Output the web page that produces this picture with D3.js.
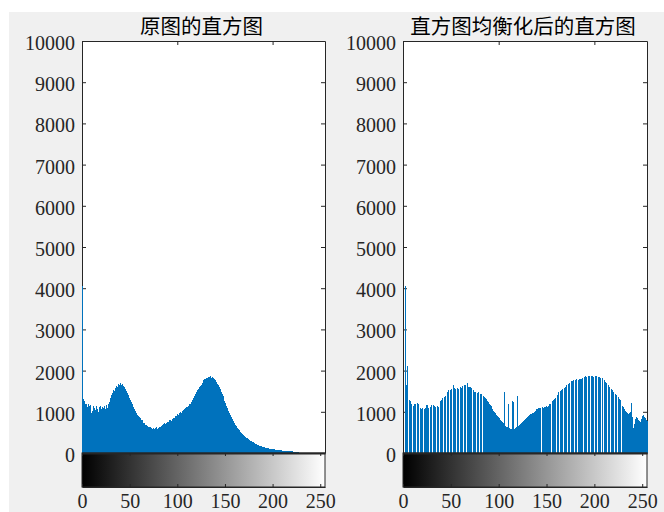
<!DOCTYPE html>
<html>
<head>
<meta charset="utf-8">
<script src="https://cdn.jsdelivr.net/npm/d3@7"></script>
<style>
  body { margin: 0; background: #fff; }
  svg { display: block; }
</style>
</head>
<body>
<svg id="svg" width="664" height="512"></svg>
<script>
// grey levels 0..255 (one bin per level)
const levels = d3.range(256);

// imhist of the original image
const origCounts = [
  4050,2120,1300,1260,1180,1200,1120,1190,1150,1170,
  980,1020,1130,1100,1050,1140,1080,1000,1110,1150,
  1060,1120,1010,1090,1130,1060,1160,1100,1190,1250,
  1340,1400,1450,1520,1500,1580,1620,1600,1670,1640,
  1690,1650,1680,1660,1630,1600,1560,1500,1450,1400,
  1340,1290,1230,1180,1120,1060,1010,960,930,900,
  870,840,810,790,760,740,720,690,680,650,
  640,620,630,600,590,610,580,600,620,590,
  610,640,620,660,680,650,700,720,700,740,
  760,750,790,810,780,830,860,840,890,910,
  950,930,970,990,960,1010,1040,1020,1070,1090,
  1120,1110,1150,1180,1200,1250,1290,1340,1380,1430,
  1470,1520,1560,1600,1630,1660,1700,1730,1760,1790,
  1800,1830,1810,1850,1840,1860,1830,1850,1820,1790,
  1760,1720,1680,1640,1600,1550,1490,1430,1380,1320,
  1270,1210,1150,1090,1030,980,920,870,820,780,
  730,690,650,610,580,550,520,490,470,440,
  420,400,390,370,360,340,320,300,290,270,
  260,240,230,210,200,190,180,170,160,150,
  140,140,130,120,120,110,110,100,100,95,
  90,90,85,80,80,75,75,70,70,65,
  60,60,55,50,50,48,45,45,42,40,
  40,38,35,32,30,25,20,15,12,10,
  8,6,5,4,3,3,2,2,1,1,
  0,0,0,0,0,0,0,0,0,0,
  0,0,0,0,0,0
];

// imhist after histeq
const eqCounts = [
  0,0,0,4060,1650,2100,0,1290,1260,1200,
  0,1150,1200,1190,0,1210,1200,0,1090,1070,
  1090,0,1080,1100,0,1170,1160,1100,0,1110,
  1170,0,1160,1130,1120,0,1140,1120,0,1260,
  1280,1340,0,1360,1380,0,1400,1480,1520,0,
  1530,1560,0,1640,1570,1560,0,1580,1560,0,
  1600,1570,1620,0,1650,1640,0,1690,1610,1590,
  0,1600,1580,0,1520,1480,1470,0,1450,1470,
  0,1440,1420,0,1380,1350,1330,1300,1270,1230,
  1200,1170,1130,1100,1060,1020,990,960,930,900,
  870,840,810,780,760,730,1480,660,640,620,
  1190,600,580,590,1260,570,1230,590,610,630,
  1380,660,680,700,730,750,780,800,820,850,
  870,900,920,940,950,960,970,990,1010,1040,
  1060,1080,1090,1090,1100,0,1110,1100,1120,1110,
  1130,1120,1150,1180,1200,0,1270,1290,1310,1330,
  0,1400,1450,1470,0,1510,1530,1550,0,1580,
  1600,1640,0,1670,1700,0,1740,1750,1760,0,
  1780,1790,0,1780,1800,1790,0,1790,1810,0,
  1850,1860,1850,0,1870,1860,0,1870,1860,1850,
  0,1870,1860,0,1850,1840,1830,0,1810,1800,
  0,1780,1730,1700,0,1650,1610,0,1560,1520,
  1490,0,1440,1400,0,1350,1320,1280,0,1150,
  1110,1080,1040,1020,990,970,950,960,1000,1220,
  880,600,700,820,880,860,800,770,760,820,
  900,930,870,840,810,780
];

const yTicks = [0,1000,2000,3000,4000,5000,6000,7000,8000,9000,10000];
const topTicks = [100, 200];
const cbTicks = [0,50,100,150,200,250];
const titles = ['原图的直方图', '直方图均衡化后的直方图'];

const svg = d3.select('#svg');
const axisColor = '#262626';
const barColor = '#0072bd';
const serif = '"Liberation Serif", "Times New Roman", serif';
const plain = d3.format('d');

// figure background (grey panel with a thin white border top/left)
svg.append('rect')
  .attr('x', 9).attr('y', 12)
  .attr('width', 655).attr('height', 500)
  .attr('fill', '#f0f0f0');

const defs = svg.append('defs');
const grad = defs.append('linearGradient').attr('id', 'grayramp');
grad.append('stop').attr('offset', '0%').attr('stop-color', '#000');
grad.append('stop').attr('offset', '100%').attr('stop-color', '#fff');

const plotTop = 41, plotBottom = 453, cbBottom = 487;

const panels = [
  { counts: origCounts, title: titles[0], left: 82, right: 325 },
  { counts: eqCounts, title: titles[1], left: 403, right: 647 }
];

panels.forEach(p => {
  const x = d3.scaleLinear().domain([0, 255]).range([p.left, p.right]);
  const y = d3.scaleLinear().domain([0, 10000]).range([plotBottom, plotTop]);
  const g = svg.append('g');

  g.append('rect')
    .attr('x', p.left).attr('y', plotTop)
    .attr('width', p.right - p.left).attr('height', plotBottom - plotTop)
    .attr('fill', '#fff');

  // box + ticks
  const yl = g.append('g')
    .attr('transform', 'translate(' + p.left + ',0)')
    .call(d3.axisLeft(y).tickValues(yTicks).tickFormat(plain)
      .tickSizeInner(-4).tickSizeOuter(0).tickPadding(7));
  yl.selectAll('text').attr('dy', '0.42em');

  g.append('g')
    .attr('transform', 'translate(' + p.right + ',0)')
    .call(d3.axisRight(y).tickValues(yTicks).tickSizeInner(-4).tickSizeOuter(0).tickFormat(''));

  g.append('g')
    .attr('transform', 'translate(0,' + plotTop + ')')
    .call(d3.axisTop(x).tickValues(topTicks).tickSizeInner(-4).tickSizeOuter(0).tickFormat(''));

  // histogram stems, snapped to pixel columns so neighbouring bins fill solid
  g.append('g')
    .attr('shape-rendering', 'crispEdges')
    .selectAll('line')
    .data(levels.filter(b => p.counts[b] > 0))
    .enter()
    .append('line')
      .attr('x1', b => x(b)).attr('x2', b => x(b))
      .attr('y1', y(0)).attr('y2', b => y(p.counts[b]))
      .attr('stroke', barColor)
      .attr('stroke-width', 1);

  // grey colorbar under the histogram
  g.append('rect')
    .attr('x', p.left).attr('y', plotBottom)
    .attr('width', p.right - p.left).attr('height', cbBottom - plotBottom)
    .attr('fill', 'url(#grayramp)')
    .attr('stroke', axisColor).attr('stroke-width', 1);

  g.append('g')
    .attr('transform', 'translate(0,' + plotBottom + ')')
    .call(d3.axisTop(x).tickValues(cbTicks).tickSizeInner(-3).tickSizeOuter(0).tickFormat(''))
    .select('.domain').attr('stroke-width', 2);

  g.append('g')
    .attr('transform', 'translate(0,' + cbBottom + ')')
    .call(d3.axisBottom(x).tickValues(cbTicks).tickFormat(plain)
      .tickSizeInner(-3).tickSizeOuter(0).tickPadding(7));

  g.selectAll('.tick line, .domain').attr('stroke', axisColor);
  g.selectAll('g')
    .attr('font-family', serif)
    .attr('font-size', 20);
  g.selectAll('text').attr('fill', axisColor);

  g.append('text')
    .attr('x', (p.left + p.right) / 2 - 2)
    .attr('y', 34)
    .attr('text-anchor', 'middle')
    .attr('font-family', '"Noto Sans CJK SC", sans-serif')
    .attr('font-size', 20.5)
    .attr('fill', '#000')
    .text(p.title);
});
</script>
</body>
</html>
